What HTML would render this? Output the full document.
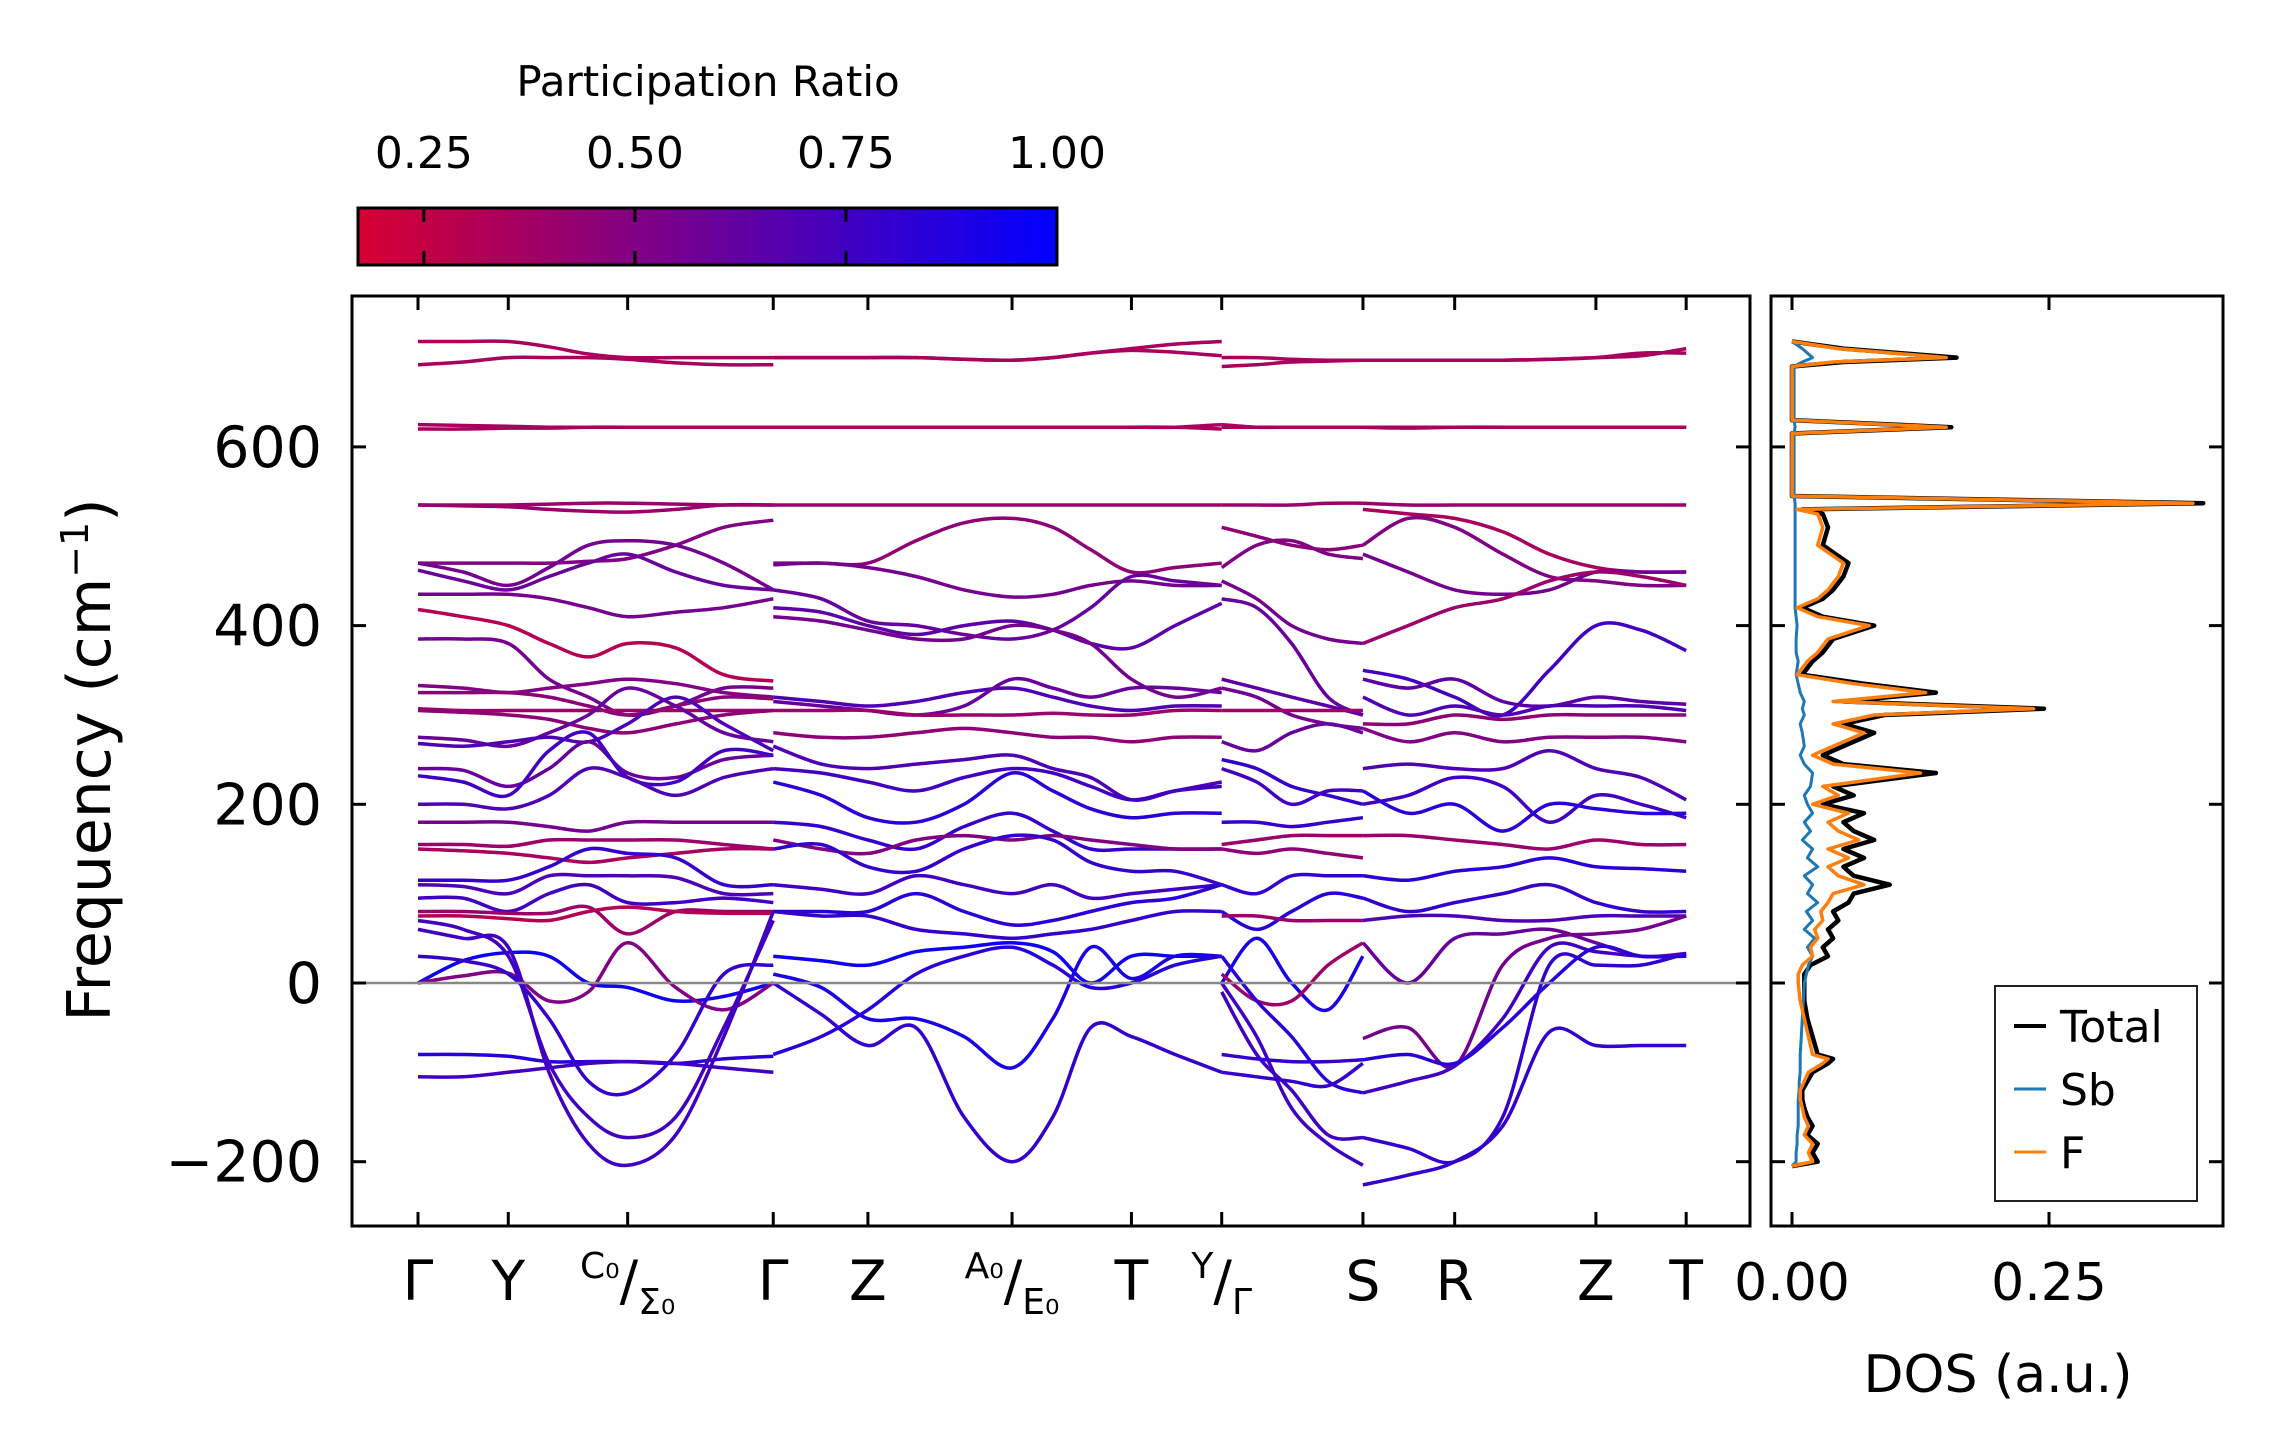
<!DOCTYPE html>
<html><head><meta charset="utf-8">
<style>
html,body{margin:0;padding:0;background:#fff;}
svg{display:block;font-family:"DejaVu Sans","Liberation Sans",sans-serif;}
</style></head>
<body>
<svg id="chart" width="2271" height="1455" viewBox="0 0 2271 1455" xmlns="http://www.w3.org/2000/svg">
<defs>
<linearGradient id="cmap" x1="0" x2="1" y1="0" y2="0">
<stop offset="0" stop-color="rgb(215,0,50)"/>
<stop offset="1" stop-color="rgb(0,0,255)"/>
</linearGradient>
<clipPath id="mainclip"><rect x="352" y="296" width="1398" height="930"/></clipPath>
<clipPath id="dosclip"><rect x="1771" y="296" width="452" height="930"/></clipPath>
</defs>
<rect width="2271" height="1455" fill="#fff"/>
<g id="colorbar">
<text x="708" y="96" font-size="42" text-anchor="middle">Participation Ratio</text>
<rect x="358" y="208" width="699" height="57" fill="url(#cmap)" stroke="#000" stroke-width="3"/>
<g id="cbticks"></g>
</g>
<g id="bands" clip-path="url(#mainclip)"></g>
<line x1="352" x2="1750" y1="983" y2="983" stroke="#888" stroke-width="2.5"/>
<rect x="352" y="296" width="1398" height="930" fill="none" stroke="#000" stroke-width="3"/>
<g id="mainaxes"></g>
<g id="dos" clip-path="url(#dosclip)"></g>
<rect x="1771" y="296" width="452" height="930" fill="none" stroke="#000" stroke-width="3"/>
<g id="dosaxes"></g>
<text transform="translate(110,760) rotate(-90)" font-size="60" text-anchor="middle">Frequency (cm<tspan baseline-shift="super" font-size="38">−1</tspan>)</text>
<text x="1998" y="1392" font-size="52" text-anchor="middle">DOS (a.u.)</text>
<g id="legend">
<rect x="1995" y="986" width="202" height="215" fill="#fff" stroke="#222" stroke-width="2"/>
<line x1="2014" x2="2046" y1="1026" y2="1026" stroke="#000" stroke-width="4"/>
<text x="2060" y="1042" font-size="44">Total</text>
<line x1="2014" x2="2046" y1="1089" y2="1089" stroke="#1f77b4" stroke-width="3"/>
<text x="2060" y="1105" font-size="44">Sb</text>
<line x1="2014" x2="2046" y1="1152" y2="1152" stroke="#ff7f0e" stroke-width="3"/>
<text x="2060" y="1168" font-size="44">F</text>
</g>
</svg>
<script>
// ---- data ----
const kTicks = [0, 0.62, 1.44, 2.44, 3.09, 4.08, 4.90, 5.52, 6.49, 7.12, 8.09, 8.71];
const kLabels = [["Γ"],["Y"],["C0","Σ0"],["Γ"],["Z"],["A0","E0"],["T"],["Y","Γ"],["S"],["R"],["Z"],["T"]];
const yTicks = [-200, 0, 200, 400, 600];
const cbTicks = [0.25, 0.50, 0.75, 1.00];
const dosTicks = [0.00, 0.25];

const seg1K = [0, 0.31, 0.62, 0.9, 1.17, 1.44, 1.77, 2.1, 2.44];
const seg1Bands = [
 [718,718,718,712,704,700,700,700,700],
 [692,695,700,700,700,698,694,692,692],
 [625,624,623,622,622,622,622,622,622],
 [620,620,621,621,622,622,622,622,622],
 [535,535,535,536,537,537,536,535,535],
 [535,534,533,530,528,527,530,535,535],
 [470,470,470,470,472,475,490,510,518],
 [470,460,445,465,490,495,490,470,440],
 [462,450,440,455,470,480,460,445,440],
 [435,435,435,430,420,410,415,420,430],
 [418,410,400,380,365,380,375,345,338],
 [385,385,380,340,320,300,310,330,330],
 [333,330,325,330,335,340,335,325,320],
 [325,325,325,320,310,300,310,320,318],
 [307,305,305,305,305,305,305,305,305],
 [305,303,300,295,285,280,290,300,305],
 [275,272,265,280,300,330,310,280,270],
 [268,265,270,275,270,290,320,290,260],
 [240,238,220,240,270,235,230,250,255],
 [232,225,210,260,280,230,225,260,255],
 [200,200,195,210,240,230,210,230,240],
 [180,180,180,175,170,180,180,180,180],
 [155,155,153,160,160,160,160,155,150],
 [150,148,145,140,135,140,145,150,150],
 [115,115,115,130,150,145,140,110,110],
 [110,108,100,120,120,120,118,100,100],
 [95,95,80,100,110,90,90,95,90],
 [80,80,78,78,85,55,80,80,80],
 [75,75,72,70,80,85,80,78,78],
 [0,25,34,30,0,-5,-20,-15,0],
 [0,8,11,-20,-10,45,-5,-30,0],
 [-80,-80,-82,-88,-88,-88,-90,-85,-82],
 [-105,-105,-100,-95,-90,-88,-90,-95,-100],
 [60,50,40,-100,-180,-204,-170,-60,80],
 [70,60,30,-90,-150,-173,-150,-50,70],
 [30,25,10,-40,-110,-123,-80,10,20]
];
const seg1PR = [0.35,0.35,0.35,0.35,0.4,0.4,0.5,0.55,0.6,0.55,0.3,0.55,0.5,0.45,0.4,0.45,0.6,0.7,0.6,0.75,0.7,0.55,0.4,0.35,0.8,0.7,0.75,0.4,0.3,0.95,0.5,0.85,0.75,0.75,0.75,0.8];

const seg2K = [2.44, 2.77, 3.09, 3.42, 3.75, 4.08, 4.36, 4.62, 4.90, 5.2, 5.52];
const seg2Bands = [
 [700,700,700,700,698,697,700,705,710,715,718],
 [700,700,700,700,698,697,700,705,708,706,702],
 [622,622,622,622,622,622,622,622,622,622,620],
 [622,622,622,622,622,622,622,622,622,622,625],
 [535,535,535,535,535,535,535,535,535,535,535],
 [470,470,470,495,515,520,510,485,460,465,470],
 [468,470,465,455,440,432,435,445,450,445,445],
 [440,430,405,400,390,385,395,420,455,450,445],
 [420,415,400,390,400,405,395,380,375,400,425],
 [410,405,395,385,385,400,395,380,340,320,330],
 [320,315,310,315,325,330,320,310,305,310,310],
 [315,310,305,300,310,340,330,320,330,330,325],
 [305,305,305,300,300,300,302,300,300,305,305],
 [280,275,275,280,285,280,275,275,270,275,275],
 [265,245,240,245,250,255,240,230,205,215,225],
 [240,235,225,215,230,240,235,220,205,215,220],
 [225,210,185,180,200,235,215,195,185,190,190],
 [180,175,160,150,175,190,170,150,150,150,150],
 [160,150,145,160,165,160,165,160,155,150,150],
 [150,155,130,125,150,165,160,135,125,125,110],
 [110,105,100,120,110,100,110,95,100,105,110],
 [80,80,80,100,80,65,70,80,90,95,110],
 [80,75,75,60,55,50,55,60,70,80,80],
 [30,25,20,35,40,45,35,0,30,30,30],
 [0,-35,-70,-50,-150,-200,-150,-50,-60,-80,-100],
 [10,-5,-40,-40,-60,-95,-40,40,5,30,30],
 [-80,-60,-30,10,30,40,20,-5,0,20,30]
];
const seg2PR = [0.35,0.35,0.35,0.35,0.4,0.45,0.55,0.6,0.65,0.55,0.7,0.6,0.4,0.45,0.7,0.75,0.85,0.8,0.5,0.8,0.75,0.85,0.8,0.95,0.8,0.9,0.85];

const seg3K = [5.52, 5.76, 6.0, 6.25, 6.49];
const seg3Bands = [
 [700,700,698,697,697],[690,692,695,696,697],
 [622,622,622,622,622],[625,622,622,622,622],
 [535,535,535,537,537],
 [510,500,490,485,490],[465,490,495,480,475],[450,430,400,385,380],
 [430,420,380,320,300],[340,330,320,310,300],[330,320,300,290,285],
 [305,305,305,305,305],[270,260,280,290,280],[250,240,220,210,200],
 [240,225,200,215,215],[180,180,175,180,185],[155,160,165,165,165],[150,145,150,145,140],
 [110,100,120,120,120],[80,60,80,100,95],[75,75,70,70,70],
 [0,50,0,-30,30],[10,-20,-20,20,45],
 [0,-60,-140,-180,-204],[-10,-80,-120,-170,-173],[30,-20,-60,-110,-123],
 [-100,-105,-110,-115,-90],[-80,-85,-88,-88,-86]
];
const seg3PR = [0.35,0.35,0.35,0.35,0.4,0.45,0.5,0.55,0.6,0.65,0.55,0.4,0.6,0.8,0.75,0.8,0.4,0.45,0.8,0.85,0.4,0.9,0.4,0.75,0.75,0.85,0.8,0.8];

const seg4K = [6.49, 6.8, 7.12, 7.45, 7.77, 8.09, 8.4, 8.71];
const seg4Bands = [
 [697,697,697,697,698,700,702,710],[697,697,697,697,698,700,705,705],
 [622,622,622,622,622,622,622,622],[622,621,622,622,622,622,622,622],
 [537,535,535,535,535,535,535,535],[530,525,520,505,480,465,460,460],
 [490,520,510,480,455,450,445,445],[480,460,440,435,440,460,460,460],
 [380,400,420,430,450,460,455,445],
 [350,340,320,300,350,400,395,372],
 [340,330,340,315,310,320,315,312],[320,300,310,300,310,310,310,305],
 [290,290,300,295,300,300,300,300],[285,270,280,270,275,275,275,270],
 [240,245,240,240,260,240,230,205],
 [200,210,230,220,180,210,200,185],[215,190,200,170,200,195,190,190],
 [165,165,160,155,150,160,155,155],[120,115,125,130,140,130,128,125],
 [95,80,90,100,110,90,80,80],[70,75,75,70,70,75,75,75],
 [45,0,50,55,60,45,30,33],
 [-62,-50,-93,20,50,55,60,75],
 [-226,-215,-200,-160,-55,-70,-70,-70],
 [-173,-185,-200,-150,20,20,20,33],
 [-123,-110,-93,-40,40,35,30,30],
 [-86,-80,-90,-50,0,40,30,30]
];
const seg4PR = [0.35,0.35,0.35,0.35,0.4,0.35,0.5,0.55,0.4,0.75,0.65,0.7,0.45,0.5,0.7,0.75,0.85,0.4,0.85,0.8,0.7,0.6,0.55,0.8,0.8,0.75,0.85];

const dosFreq  = [-205,-200,-190,-180,-170,-160,-150,-140,-130,-120,-110,-100,-90,-85,-80,-60,-40,-20,0,10,20,30,40,50,60,70,80,90,100,110,120,130,140,150,160,170,180,190,200,210,220,235,245,255,265,280,290,300,307,315,325,335,345,360,370,385,400,410,420,430,440,455,470,490,510,525,530,537,545,610,615,622,630,690,695,700,710,718];
const dosTotal = [0.0,0.025,0.02,0.025,0.015,0.02,0.015,0.012,0.01,0.01,0.015,0.02,0.035,0.04,0.025,0.02,0.015,0.012,0.012,0.012,0.018,0.035,0.03,0.04,0.035,0.045,0.04,0.055,0.06,0.095,0.06,0.05,0.07,0.05,0.08,0.06,0.05,0.07,0.03,0.06,0.04,0.14,0.05,0.03,0.05,0.08,0.05,0.09,0.245,0.05,0.14,0.07,0.01,0.02,0.03,0.04,0.08,0.03,0.01,0.03,0.04,0.05,0.055,0.03,0.035,0.03,0.01,0.4,0.0,0.0,0.0,0.155,0.0,0.0,0.05,0.16,0.05,0.0];
const dosF     = [0.0,0.02,0.016,0.02,0.012,0.016,0.012,0.01,0.008,0.008,0.012,0.016,0.03,0.035,0.02,0.016,0.012,0.008,0.006,0.006,0.01,0.02,0.018,0.025,0.022,0.03,0.028,0.035,0.04,0.07,0.045,0.035,0.055,0.035,0.065,0.045,0.035,0.055,0.02,0.045,0.03,0.125,0.04,0.02,0.04,0.07,0.04,0.08,0.235,0.04,0.13,0.06,0.005,0.015,0.025,0.035,0.075,0.025,0.005,0.025,0.035,0.045,0.05,0.025,0.03,0.025,0.005,0.39,0.0,0.0,0.0,0.15,0.0,0.0,0.04,0.15,0.045,0.0];
const dosSb    = [0.0,0.004,0.004,0.005,0.005,0.006,0.006,0.006,0.006,0.007,0.007,0.008,0.008,0.008,0.008,0.009,0.01,0.011,0.012,0.014,0.016,0.02,0.015,0.022,0.012,0.02,0.014,0.025,0.015,0.02,0.012,0.025,0.015,0.02,0.01,0.018,0.012,0.02,0.015,0.012,0.018,0.02,0.012,0.008,0.012,0.01,0.008,0.012,0.01,0.012,0.008,0.006,0.004,0.006,0.004,0.004,0.005,0.004,0.003,0.003,0.003,0.003,0.003,0.003,0.003,0.003,0.003,0.003,0.002,0.002,0.002,0.003,0.002,0.002,0.01,0.02,0.01,0.0];

// ---- scales ----
const NS = "http://www.w3.org/2000/svg";
const xK = k => 418 + k * 145.6;
const yF = f => 983 - f * 0.8935;
const xCb = v => 358 + (v - 0.172) / 0.828 * 699;
const xD = v => 1792 + v * 1028;
function prColor(p){const t=Math.max(0,Math.min(1,(p-0.172)/0.828));return `rgb(${Math.round(215*(1-t))},0,${Math.round(50+205*t)})`;}
function mk(tag, attrs, parent){const e=document.createElementNS(NS,tag);for(const a in attrs)e.setAttribute(a,attrs[a]);parent.appendChild(e);return e;}
function smooth(pts){
  let d=`M${pts[0][0].toFixed(1)},${pts[0][1].toFixed(1)}`;
  for(let i=0;i<pts.length-1;i++){
    const p0=pts[Math.max(0,i-1)],p1=pts[i],p2=pts[i+1],p3=pts[Math.min(pts.length-1,i+2)];
    const c1=[p1[0]+(p2[0]-p0[0])/6,p1[1]+(p2[1]-p0[1])/6];
    const c2=[p2[0]-(p3[0]-p1[0])/6,p2[1]-(p3[1]-p1[1])/6];
    d+=` C${c1[0].toFixed(1)},${c1[1].toFixed(1)} ${c2[0].toFixed(1)},${c2[1].toFixed(1)} ${p2[0].toFixed(1)},${p2[1].toFixed(1)}`;
  }
  return d;
}
// ---- bands ----
const bandsG=document.getElementById('bands');
[[seg1K,seg1Bands,seg1PR],[seg2K,seg2Bands,seg2PR],[seg3K,seg3Bands,seg3PR],[seg4K,seg4Bands,seg4PR]].forEach((s,si)=>{
  s[1].forEach((vals,bi)=>{
    const pts=vals.map((v,i)=>[xK(s[0][i]),yF(v)]);
    const p=mk('path',{d:smooth(pts),fill:'none',stroke:prColor(s[2][bi]),'stroke-width':3.5,'stroke-linejoin':'round'},bandsG);
    
    
  });
});
// ---- main axes ----
const ax=document.getElementById('mainaxes');
yTicks.forEach(t=>{
  const y=yF(t);
  const l1=mk('line',{x1:352,x2:366,y1:y,y2:y,stroke:'#000','stroke-width':3},ax);
  
  
  const l2=mk('line',{x1:1736,x2:1750,y1:y,y2:y,stroke:'#000','stroke-width':3},ax);
  
  
  const tx=mk('text',{x:322,y:y+20,'font-size':57,'text-anchor':'end'},ax);
  tx.textContent=(t<0?'−':'')+Math.abs(t);
  
  
});
kTicks.forEach((k,i)=>{
  const x=xK(k);
  const t1=mk('line',{x1:x,x2:x,y1:296,y2:310,stroke:'#000','stroke-width':3},ax);
  
  
  const t2=mk('line',{x1:x,x2:x,y1:1212,y2:1226,stroke:'#000','stroke-width':3},ax);
  
  
  const lab=kLabels[i];
  const tx=mk('text',{x:x,y:1300,'font-size':55,'text-anchor':'middle'},ax);
  
  
  if(lab.length===1){tx.textContent=lab[0];}
  else{
    const a=mk('tspan',{'font-size':36,dy:-22},tx);a.textContent=lab[0].replace('0','₀');
    const b=mk('tspan',{'font-size':55,dy:22},tx);b.textContent='/';
    const c=mk('tspan',{'font-size':36,dy:14},tx);c.textContent=lab[1].replace('0','₀');
  }
});
// ---- colorbar ticks ----
const cb=document.getElementById('cbticks');
cbTicks.forEach(t=>{
  const x=xCb(t);
  if(t<1){
    const a=mk('line',{x1:x,x2:x,y1:208,y2:222,stroke:'#000','stroke-width':3},cb);
    
    
    const b=mk('line',{x1:x,x2:x,y1:251,y2:265,stroke:'#000','stroke-width':3},cb);
    
    
  }
  const tx=mk('text',{x:x,y:168,'font-size':44,'text-anchor':'middle'},cb);
  tx.textContent=t.toFixed(2);
  
  
});
// ---- DOS ----
const dg=document.getElementById('dos');
[[dosTotal,'#000',4.5,'dos-total-line'],[dosSb,'#1f77b4',3,'dos-sb-line'],[dosF,'#ff7f0e',3.5,'dos-f-line']].forEach(s=>{
  const d=s[0].map((v,i)=>(i?'L':'M')+xD(v).toFixed(1)+','+yF(dosFreq[i]).toFixed(1)).join(' ');
  const p=mk('path',{d:d,fill:'none',stroke:s[1],'stroke-width':s[2],'stroke-linejoin':'round'},dg);
  
  
});
const da=document.getElementById('dosaxes');
yTicks.forEach(t=>{
  const y=yF(t);
  const a=mk('line',{x1:1771,x2:1785,y1:y,y2:y,stroke:'#000','stroke-width':3},da);
  
  
  const b=mk('line',{x1:2209,x2:2223,y1:y,y2:y,stroke:'#000','stroke-width':3},da);
  
  
});
dosTicks.forEach(t=>{
  const x=xD(t);
  const a=mk('line',{x1:x,x2:x,y1:296,y2:310,stroke:'#000','stroke-width':3},da);
  
  
  const b=mk('line',{x1:x,x2:x,y1:1212,y2:1226,stroke:'#000','stroke-width':3},da);
  
  
  const tx=mk('text',{x:x,y:1300,'font-size':52,'text-anchor':'middle'},da);
  tx.textContent=t.toFixed(2);
  
  
});
</script>
</body></html>
